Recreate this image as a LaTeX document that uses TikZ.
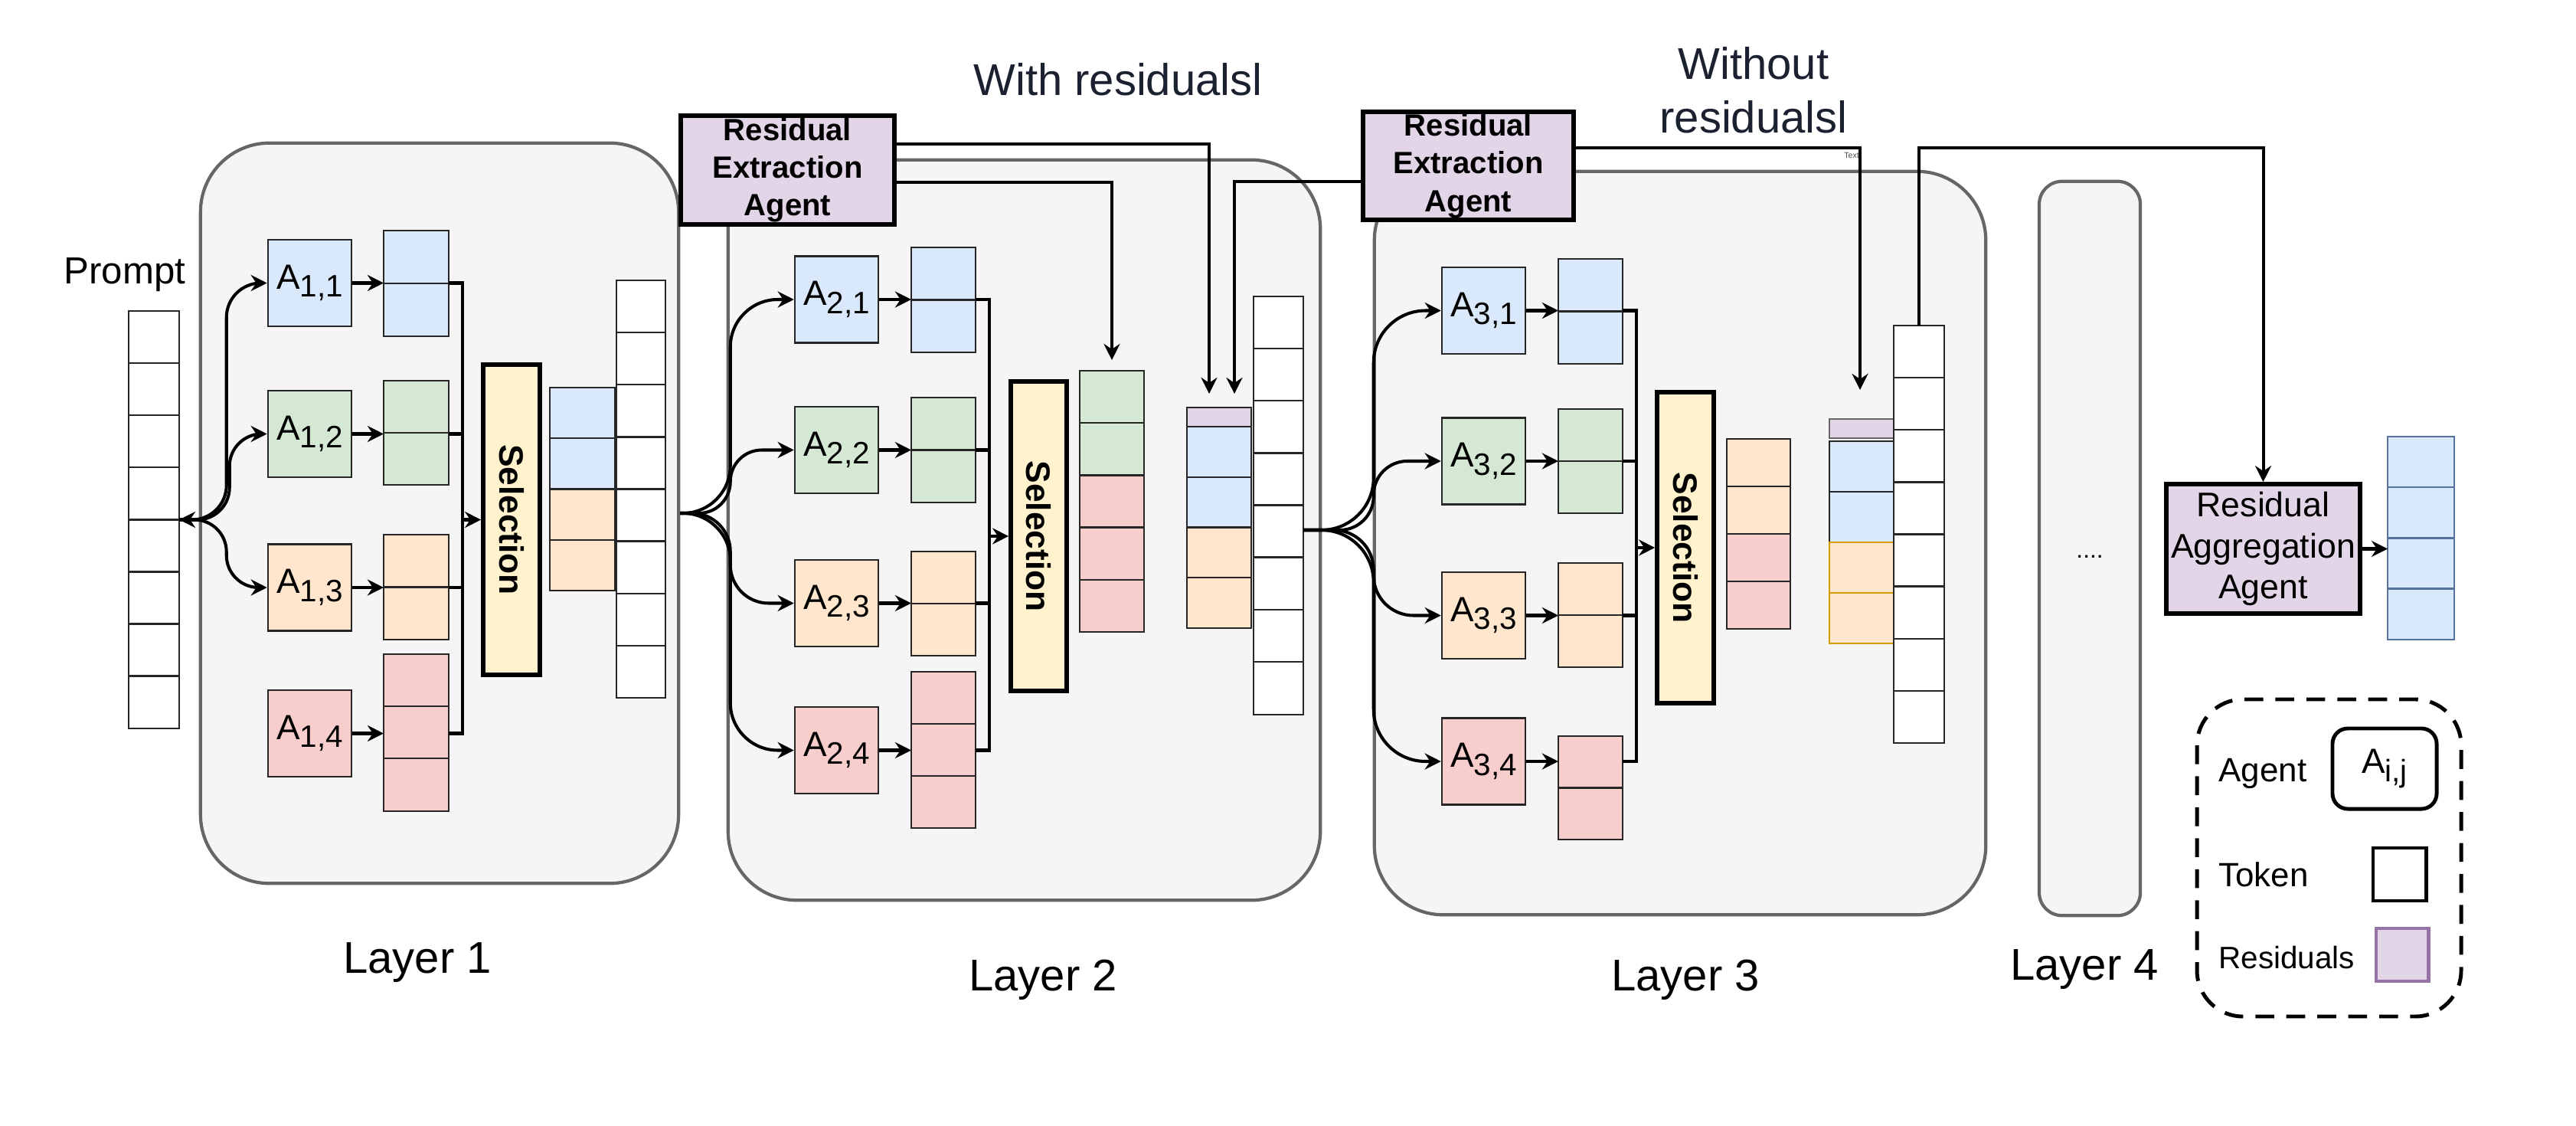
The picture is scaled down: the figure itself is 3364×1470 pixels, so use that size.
\documentclass[tikz,border=0pt]{standalone}
\usepackage{fontspec}
\setmainfont{Liberation Sans}
\usepackage{graphicx}
\usetikzlibrary{arrows.meta,calc}

\definecolor{cblue}{HTML}{DAE8FC}
\definecolor{cbluedark}{HTML}{56739E}
\definecolor{cgreen}{HTML}{D5E8D4}
\definecolor{corange}{HTML}{FFE6CC}
\definecolor{cgold}{HTML}{D79B00}
\definecolor{cred}{HTML}{F8CECC}
\definecolor{cpurple}{HTML}{E1D5E7}
\definecolor{cpurpledark}{HTML}{9673A6}
\definecolor{cyellow}{HTML}{FFF2CC}
\definecolor{cgray}{HTML}{F5F5F5}
\definecolor{cframe}{HTML}{666666}
\definecolor{navy}{HTML}{1B2130}

\newcommand{\agname}[1]{A\raisebox{-3pt}{\fontsize{11.5}{11.5}\selectfont #1}}

\tikzset{
  layer/.style={draw=cframe, fill=cgray, line width=1.2pt, rounded corners=0.9cm, inner sep=0pt},
  agent/.style={draw=black!85, line width=0.7pt, minimum width=1.09cm, minimum height=1.13cm, inner sep=0pt, font=\fontsize{13}{14}\selectfont},
  stack/.style={draw=black!85, line width=0.7pt, minimum width=0.85cm, inner sep=0pt, outer sep=0pt},
  cell/.style={draw=black!85, line width=0.7pt},
  tokcol/.style={stack, fill=white, minimum width=0.65cm, minimum height=5.45cm},
  selbox/.style={draw=black, fill=cyellow, line width=1.6pt, minimum width=0.74cm, minimum height=4.05cm, inner sep=0pt, font=\bfseries\fontsize{12.6}{14}\selectfont},
  rebox/.style={draw=black, fill=cpurple, line width=1.6pt, inner sep=0pt, align=center},
  line/.style={line width=1.15pt},
  arr/.style={line width=1.15pt, -{Stealth[length=6pt, width=6pt, inset=2pt]}},
  fan/.style={arr, rounded corners=#1},
  fan/.default=0.42cm,
  bigtext/.style={font=\fontsize{16.5}{20}\selectfont},
}

\begin{document}
\begin{tikzpicture}[x=0.01cm, y=-0.01cm]
\useasboundingbox (0,0) rectangle (3364,1470);

% layer frames
\node (L1) at (574,670) [layer, minimum width=6.24cm, minimum height=9.66cm] {};
\node (L2) at (1337.5,692) [layer, minimum width=7.73cm, minimum height=9.66cm] {};
\node (L3) at (2194,709) [layer, minimum width=7.98cm, minimum height=9.70cm] {};
\node (L4) at (2729,716) [layer, rounded corners=0.3cm, minimum width=1.32cm, minimum height=9.58cm] {};
\node (dots) at (2729,728) [anchor=base, font=\fontsize{9}{9}\selectfont] {....};

\node[bigtext, anchor=base] at (545,1270) {Layer 1};
\node[bigtext, anchor=base] at (1362,1293) {Layer 2};
\node[bigtext, anchor=base] at (2201,1293) {Layer 3};
\node[bigtext, anchor=base] at (2722,1279) {Layer 4};

% prompt
\node[anchor=base, font=\fontsize{14}{16}\selectfont] at (163,371) {Prompt};
\node (prompt) at (201,678.5) [tokcol, minimum width=0.66cm] {};
\foreach \k in {1,...,7} \draw[cell] (prompt.north west) ++(0,68.125*\k) -- ++(66,0);

% agents
\node (a11) at (404.5,369.5) [agent, fill=cblue] {\agname{1,1}};
\node (a12) at (404.5,566.5) [agent, fill=cgreen] {\agname{1,2}};
\node (a13) at (404.5,767) [agent, fill=corange] {\agname{1,3}};
\node (a14) at (404.5,957.5) [agent, fill=cred] {\agname{1,4}};

\node (a21) at (1092.5,391) [agent, fill=cblue] {\agname{2,1}};
\node (a22) at (1092.5,587.5) [agent, fill=cgreen] {\agname{2,2}};
\node (a23) at (1092.5,787.5) [agent, fill=corange] {\agname{2,3}};
\node (a24) at (1092.5,979.5) [agent, fill=cred] {\agname{2,4}};

\node (a31) at (1937.5,405.5) [agent, fill=cblue] {\agname{3,1}};
\node (a32) at (1937.5,602) [agent, fill=cgreen] {\agname{3,2}};
\node (a33) at (1937.5,803.5) [agent, fill=corange] {\agname{3,3}};
\node (a34) at (1937.5,994) [agent, fill=cred] {\agname{3,4}};

% agent outputs
\node (o11) at (543.5,370) [stack, fill=cblue, minimum height=1.38cm] {};
\node (o12) at (543.5,565) [stack, fill=cgreen, minimum height=1.36cm] {};
\node (o13) at (543.5,766.5) [stack, fill=corange, minimum height=1.37cm] {};
\node (o14) at (543.5,956.5) [stack, fill=cred, minimum height=2.05cm] {};

\node (o21) at (1232,391.5) [stack, fill=cblue, minimum width=0.84cm, minimum height=1.37cm] {};
\node (o22) at (1232,587.5) [stack, fill=cgreen, minimum width=0.84cm, minimum height=1.37cm] {};
\node (o23) at (1232,788) [stack, fill=corange, minimum width=0.84cm, minimum height=1.36cm] {};
\node (o24) at (1232,979) [stack, fill=cred, minimum width=0.84cm, minimum height=2.04cm] {};

\node (o31) at (2077,406.5) [stack, fill=cblue, minimum width=0.84cm, minimum height=1.37cm] {};
\node (o32) at (2077,602) [stack, fill=cgreen, minimum width=0.84cm, minimum height=1.36cm] {};
\node (o33) at (2077,803) [stack, fill=corange, minimum width=0.84cm, minimum height=1.36cm] {};
\node (o34) at (2077,1028.5) [stack, fill=cred, minimum width=0.84cm, minimum height=1.35cm] {};

\foreach \o in {o11,o12,o13,o21,o22,o23,o31,o32,o33,o34} \draw[cell] (\o.west) -- (\o.east);
\foreach \o in {o14,o24} \foreach \k in {1,2} \draw[cell] (\o.north west) ++(0,68*\k) -- ++(84.5,0);

% selection
\node (sel1) at (668,678.5) [selbox] {\rotatebox{-90}{Selection}};
\node (sel2) at (1356.5,700) [selbox, minimum width=0.73cm, minimum height=4.04cm] {\rotatebox{-90}{Selection}};
\node (sel3) at (2201,715) [selbox, minimum height=4.06cm] {\rotatebox{-90}{Selection}};

% selected tokens
\foreach \k/\c in {0/cblue, 1/cblue, 2/corange, 3/corange} \draw[cell, fill=\c] (718,506+66.25*\k) rectangle ++(85,66.25);
\foreach \k/\c in {0/cgreen, 1/cgreen, 2/cred, 3/cred, 4/cred} \draw[cell, fill=\c] (1410,484+68.2*\k) rectangle ++(84,68.2);
\foreach \k/\c in {0/corange, 1/corange, 2/cred, 3/cred} \draw[cell, fill=\c] (2255,573+62*\k) rectangle ++(83,62);

% residual stacks
\draw[cell, fill=cpurple] (1550,532) rectangle (1634,557);
\foreach \k/\c in {0/cblue, 1/cblue, 2/corange, 3/corange} \draw[cell, fill=\c] (1550,557+65.75*\k) rectangle ++(84,65.75);
\draw[cell, draw=black!60, fill=cpurple] (2389,547) rectangle (2473,572);
\foreach \k/\c in {0/cblue, 1/cblue} \draw[cell, fill=\c] (2389,576+66*\k) rectangle ++(84,66);
\foreach \k in {2,3} \draw[cell, draw=cgold, fill=corange] (2389,576+66*\k) rectangle ++(84,66);

% layer token columns
\node (tok1) at (837,638.5) [tokcol, minimum width=0.64cm] {};
\node (tok2) at (1669.5,660) [tokcol, minimum height=5.46cm] {};
\node (tok3) at (2506,697.5) [tokcol, minimum width=0.66cm] {};
\foreach \t in {tok1,tok2,tok3} \foreach \k in {1,...,7} \draw[cell] (\t.north west) ++(0,68.15*\k) -- ++(65,0);

% fan out to agents
\draw[fan=0.45cm] (prompt.east) -| ($(a11.west)+(-53,0)$) -- (a11.west);
\draw[fan] (prompt.east) -| ($(a12.west)+(-49,0)$) -- (a12.west);
\draw[fan, {Stealth[length=6pt, width=6pt, inset=2pt]}-{Stealth[length=6pt, width=6pt, inset=2pt]}] (prompt.east) -| ($(a13.west)+(-53,0)$) -- (a13.west);
\foreach \k/\r in {1/0.62cm, 2/0.41cm, 3/0.5cm, 4/0.62cm} \draw[fan=\r] (L1.east) -| ($(a2\k.west)+(-83,0)$) -- (a2\k.west);
\coordinate (f3) at (tok2.east |- L2.east);
\foreach \k/\r in {1/0.68cm, 2/0.44cm, 3/0.52cm, 4/0.68cm} \draw[fan=\r] (f3) -| ($(a3\k.west)+(-88,0)$) -- (a3\k.west);

% agents to outputs, outputs to selection
\foreach \i in {1,2,3} {
  \foreach \k in {1,...,4} \draw[arr] (a\i\k.east) -- (a\i\k.east -| o\i\k.west);
  \coordinate (b\i) at ($(a\i1.east -| o\i1.east)+(18,0)$);
  \draw[line] (a\i1.east -| o\i1.east) -- (b\i) |- (a\i4.east -| o\i4.east);
  \draw[line] (a\i2.east -| o\i2.east) -- (a\i2.east -| b\i);
  \draw[line] (a\i3.east -| o\i3.east) -- (a\i3.east -| b\i);
  \draw[arr] (sel\i.west -| b\i) -- (sel\i.west);
}

% residual extraction
\node (re1) at (1028.5,222) [rebox, minimum width=2.79cm, minimum height=1.42cm, font=\bfseries\fontsize{11.4}{14}\selectfont] {Residual\\Extraction\\Agent};
\node (re2) at (1917.5,216.5) [rebox, minimum width=2.75cm, minimum height=1.41cm, font=\bfseries\fontsize{11.4}{14}\selectfont] {Residual\\Extraction\\Agent};

\coordinate (r2a) at (1579,514);
\coordinate (r2b) at (1612,514);
\coordinate (s2in) at (1452,470);
\coordinate (r3a) at (2429,509);

\draw[line] (L1.east |- 0,237) -- (re1.west |- 0,237);
\draw[arr] (re1.east |- 0,188) -| (r2a);
\draw[arr] (re1.east |- 0,238) -| (s2in);
\draw[arr] (re2.west |- 0,237) -| (r2b);
\draw[arr] (re2.east |- 0,193) -| (r3a);
\node (txt) at (2418,203) [font=\fontsize{3}{3}\selectfont, text=black!70] {Text};

\node (with) at (1460,104) [bigtext, text=navy] {With residualsl};
\node (without) at (2290,118) [bigtext, text=navy, align=center] {Without\\residualsl};

% aggregation
\node (raa) at (2955.5,716.5) [rebox, minimum width=2.53cm, minimum height=1.69cm, font=\fontsize{12.7}{15.2}\selectfont] {Residual\\Aggregation\\Agent};
\draw[arr] (tok3.north) -- ++(0,-232) -| (raa.north);
\node (fin) at (3161.5,702.5) [stack, draw=cbluedark, fill=cblue, minimum width=0.87cm, minimum height=2.65cm] {};
\foreach \k in {1,2,3} \draw[cell, draw=cbluedark] (fin.north west) ++(0,66.25*\k) -- ++(87,0);
\draw[arr] (raa.east) -- (raa.east -| fin.west);

% legend
\draw[line width=1.4pt, dash pattern=on 7pt off 4.5pt, rounded corners=0.6cm] (2869,913) rectangle (3214,1327);
\node[anchor=base west, font=\fontsize{12.5}{14}\selectfont] at (2885,1020) {Agent};
\node (legagent) at (3114,1003.5) [draw, line width=1.4pt, rounded corners=0.2cm, minimum width=1.36cm, minimum height=1.05cm, font=\fontsize{13}{14}\selectfont] {\agname{i,j}};
\node[anchor=base west, font=\fontsize{12.5}{14}\selectfont] at (2885,1157) {Token};
\node (legtoken) at (3133.5,1141.5) [draw, line width=1.4pt, minimum width=0.69cm, minimum height=0.69cm] {};
\node[anchor=base west, font=\fontsize{11.5}{14}\selectfont] at (2885,1264) {Residuals};
\node (legres) at (3137,1246.5) [draw=cpurpledark, fill=cpurple, line width=1.4pt, minimum width=0.68cm, minimum height=0.69cm] {};

\end{tikzpicture}
\end{document}
